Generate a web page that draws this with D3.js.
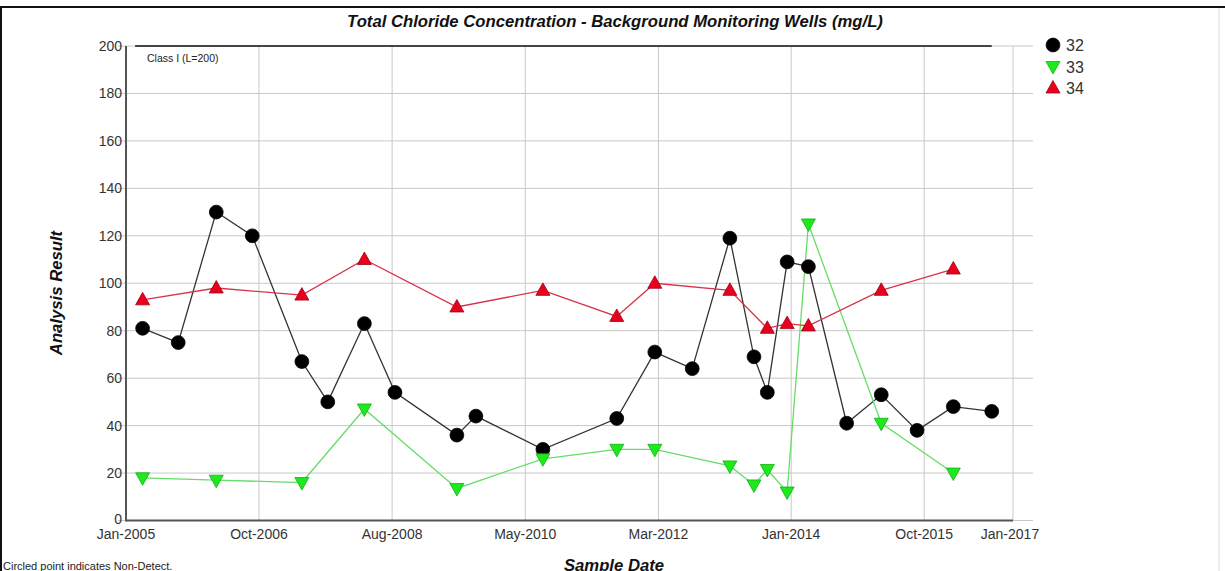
<!DOCTYPE html>
<html>
<head>
<meta charset="utf-8">
<script src="https://cdn.jsdelivr.net/npm/d3@7"></script>
<style>
  body { margin: 0; background: #fff; }
  svg { display: block; font-family: "Liberation Sans", Arial, sans-serif; }
  .tick-label { font-size: 14px; fill: #333; }
  .axis-title { font-size: 16.7px; font-weight: bold; font-style: italic; fill: #111; }
</style>
</head>
<body>
<svg id="chart" width="1225" height="571"></svg>
<script>
// Data
const dates32 = ["2005-03-24", "2005-09-16", "2006-03-23", "2006-09-17", "2007-05-20", "2007-09-25",
  "2008-03-24", "2008-08-22", "2009-06-24", "2009-09-26", "2010-08-23", "2011-08-23", "2012-02-27",
  "2012-08-30", "2013-03-04", "2013-07-01", "2013-09-05", "2013-12-12", "2014-03-27", "2014-10-02",
  "2015-03-22", "2015-09-15", "2016-03-12", "2016-09-18"];
const values32 = [81, 75, 130, 120, 67, 50, 83, 54, 36, 44, 30, 43, 71, 64, 119, 69, 54, 109, 107, 41, 53, 38, 48, 46];

const dates33 = ["2005-03-24", "2006-03-23", "2007-05-20", "2008-03-24", "2009-06-24", "2010-08-23",
  "2011-08-23", "2012-02-27", "2013-03-04", "2013-07-01", "2013-09-05", "2013-12-12", "2014-03-27",
  "2015-03-22", "2016-03-12"];
const values33 = [18, 17, 16, 47, 13.5, 26, 30, 30, 23, 15, 21.5, 12, 125, 41, 20];

const dates34 = ["2005-03-24", "2006-03-23", "2007-05-20", "2008-03-24", "2009-06-24", "2010-08-23",
  "2011-08-23", "2012-02-27", "2013-03-04", "2013-09-05", "2013-12-12", "2014-03-27", "2015-03-22",
  "2016-03-12"];
const values34 = [93, 98, 95, 110, 90, 97, 86, 100, 97, 81, 83, 82, 97, 106];

const xTickDates = ["2005-01-01", "2006-10-20", "2008-08-08", "2010-05-28", "2012-03-16", "2014-01-01", "2015-10-20", "2017-01-01"];
const xTickLabels = ["Jan-2005", "Oct-2006", "Aug-2008", "May-2010", "Mar-2012", "Jan-2014", "Oct-2015", "Jan-2017"];
const yTicks = [0, 20, 40, 60, 80, 100, 120, 140, 160, 180, 200];
const limitValue = 200;
const limitLabel = "Class I (L=200)";

const seriesNames = ["32", "33", "34"];

// Layout
const plot = { left: 126, right: 1013, top: 46, bottom: 520.5, gridRight: 1033 };

const svg = d3.select("#chart");
const parse = d3.timeParse("%Y-%m-%d");

const x = d3.scaleTime()
  .domain([parse("2005-01-01"), parse("2017-01-01")])
  .range([plot.left, plot.right]);
const y = d3.scaleLinear().domain([0, 200]).range([plot.bottom, plot.top]);

// Page frame
svg.append("line").attr("x1", 0).attr("x2", 1225).attr("y1", 7).attr("y2", 7)
  .attr("stroke", "#111").attr("stroke-width", 2);
svg.append("line").attr("x1", 1).attr("x2", 1).attr("y1", 7).attr("y2", 571)
  .attr("stroke", "#111").attr("stroke-width", 2);
svg.append("line").attr("x1", 1219).attr("x2", 1219).attr("y1", 8).attr("y2", 571)
  .attr("stroke", "#ddd").attr("stroke-width", 1);

// Grid lines
const grid = svg.append("g");
grid.selectAll(".hgrid").data(yTicks).join("line")
  .attr("x1", plot.left - 8).attr("x2", plot.gridRight)
  .attr("y1", d => y(d)).attr("y2", d => y(d))
  .attr("stroke", "#c8c8c8").attr("stroke-width", 1);
grid.selectAll(".vgrid").data(xTickDates).join("line")
  .attr("x1", d => x(parse(d))).attr("x2", d => x(parse(d)))
  .attr("y1", plot.top).attr("y2", plot.bottom)
  .attr("stroke", "#c8c8c8").attr("stroke-width", 1);

// Limit line
svg.append("line")
  .attr("x1", x(parse("2005-02-15"))).attr("x2", x(parse("2016-09-18")))
  .attr("y1", y(limitValue)).attr("y2", y(limitValue))
  .attr("stroke", "#111").attr("stroke-width", 1.5);
svg.append("text").attr("x", 147).attr("y", 62)
  .attr("font-size", 10.5).attr("fill", "#222").text(limitLabel);

// Axes lines
svg.append("line").attr("x1", plot.left).attr("x2", plot.left)
  .attr("y1", plot.top).attr("y2", plot.bottom + 1)
  .attr("stroke", "#555").attr("stroke-width", 2);
svg.append("line").attr("x1", plot.left).attr("x2", plot.right)
  .attr("y1", plot.bottom).attr("y2", plot.bottom)
  .attr("stroke", "#555").attr("stroke-width", 2);

// Tick labels
svg.selectAll(".ylab").data(yTicks).join("text")
  .attr("class", "tick-label")
  .attr("x", plot.left - 4).attr("y", d => y(d) + 5 - (d === 0 ? 2 : 0))
  .attr("text-anchor", "end").text(d => d);
svg.selectAll(".xlab").data(xTickDates).join("text")
  .attr("class", "tick-label")
  .attr("x", (d, i) => x(parse(d)) - (i === xTickDates.length - 1 ? 3 : 0))
  .attr("y", 539)
  .attr("text-anchor", "middle").text((d, i) => xTickLabels[i]);

// Titles
svg.append("text").attr("class", "axis-title")
  .attr("x", 615).attr("y", 27).attr("text-anchor", "middle")
  .text("Total Chloride Concentration - Background Monitoring Wells (mg/L)");
svg.append("text").attr("class", "axis-title")
  .attr("transform", "translate(62,293) rotate(-90)").attr("text-anchor", "middle")
  .text("Analysis Result");
svg.append("text").attr("class", "axis-title")
  .attr("x", 614).attr("y", 571).attr("text-anchor", "middle")
  .text("Sample Date");
svg.append("text").attr("x", 3).attr("y", 570)
  .attr("font-size", 11).attr("fill", "#222").text("Circled point indicates Non-Detect.");

// Series
const series = [
  { name: seriesNames[0], dates: dates32, values: values32, line: "#333", fill: "#000", stroke: "#000", symbol: "circle" },
  { name: seriesNames[1], dates: dates33, values: values33, line: "#66dd66", fill: "#1ee81e", stroke: "#12b012", symbol: "down" },
  { name: seriesNames[2], dates: dates34, values: values34, line: "#d9334a", fill: "#e8001c", stroke: "#a0001a", symbol: "up" }
];

function markerPath(type) {
  if (type === "circle") return d3.symbol().type(d3.symbolCircle).size(150)();
  if (type === "up") return "M0,-7.5L7,5L-7,5Z";
  return "M0,7.5L7,-5L-7,-5Z";
}

const lineGen = d3.line().x(d => x(d.date)).y(d => y(d.value));

series.forEach(s => {
  const pts = s.dates.map((d, i) => ({ date: parse(d), value: s.values[i] }));
  svg.append("path").datum(pts)
    .attr("d", lineGen).attr("fill", "none")
    .attr("stroke", s.line).attr("stroke-width", 1.3);
  s.pts = pts;
});

series.forEach(s => {
  svg.selectAll(null).data(s.pts).join("path")
    .attr("d", markerPath(s.symbol))
    .attr("transform", d => `translate(${x(d.date)},${y(d.value)})`)
    .attr("fill", s.fill).attr("stroke", s.stroke).attr("stroke-width", 0.8);
});

// Legend
const legend = svg.append("g");
series.forEach((s, i) => {
  const ly = 45 + i * 21.5;
  legend.append("path").attr("d", markerPath(s.symbol))
    .attr("transform", `translate(1053,${ly})`)
    .attr("fill", s.fill).attr("stroke", s.stroke).attr("stroke-width", 0.8);
  legend.append("text").attr("x", 1066).attr("y", ly + 6)
    .attr("font-size", 16).attr("fill", "#333").text(s.name);
});
</script>
</body>
</html>
